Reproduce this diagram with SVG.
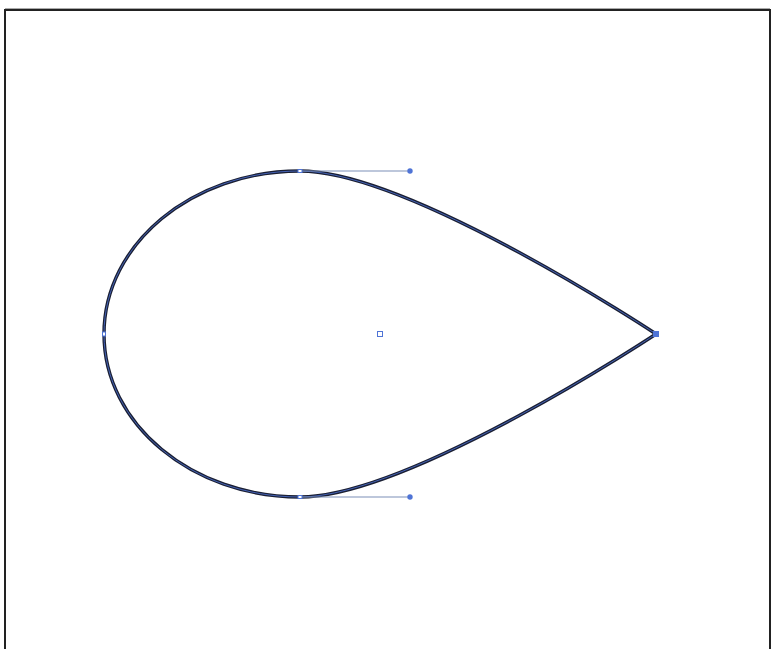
<svg xmlns="http://www.w3.org/2000/svg" width="771" height="649" viewBox="0 0 771 649">
<style>
.sel{fill:none;stroke:#4f74d6;stroke-width:0.8}
.anc{fill:#ffffff;stroke:#4f74d6;stroke-width:1}
.hnd{fill:#4f74d6}
.hl{stroke:#7c8fb8;stroke-width:1.2}
</style>
<rect width="771" height="649" fill="#ffffff"/>
<path d="M5,649 V10 H770 V649" fill="none" stroke="#222" stroke-width="2"/>
<line x1="5" y1="8.5" x2="770" y2="8.5" stroke="#aaa" stroke-width="1"/>
<g id="drop">
<path d="M300,171 C410,171 656,334 656,334 C656,334 410,497 300,497 C192,497 104,424 104,334 C104,244 192,171 300,171 Z" fill="none" stroke="#1a1f33" stroke-width="3.4"/>
<path class="sel" d="M300,171 C410,171 656,334 656,334 C656,334 410,497 300,497 C192,497 104,424 104,334 C104,244 192,171 300,171 Z"/>
</g>
<g id="handles">
<line class="hl" x1="300" y1="171" x2="410" y2="171"/>
<line class="hl" x1="300" y1="497" x2="410" y2="497"/>
<circle class="hnd" cx="410" cy="171" r="2.7"/>
<circle class="hnd" cx="410" cy="497" r="2.7"/>
<rect class="anc" x="298" y="169.5" width="4" height="3"/>
<rect class="anc" x="298" y="495.5" width="4" height="3"/>
<rect class="anc" x="102.5" y="332" width="3" height="4"/>
<rect class="hnd" x="653" y="331" width="6" height="6"/>
<rect x="377.5" y="331.5" width="5" height="5" fill="#fff" stroke="#4f74d6" stroke-width="1"/>
</g>
</svg>
